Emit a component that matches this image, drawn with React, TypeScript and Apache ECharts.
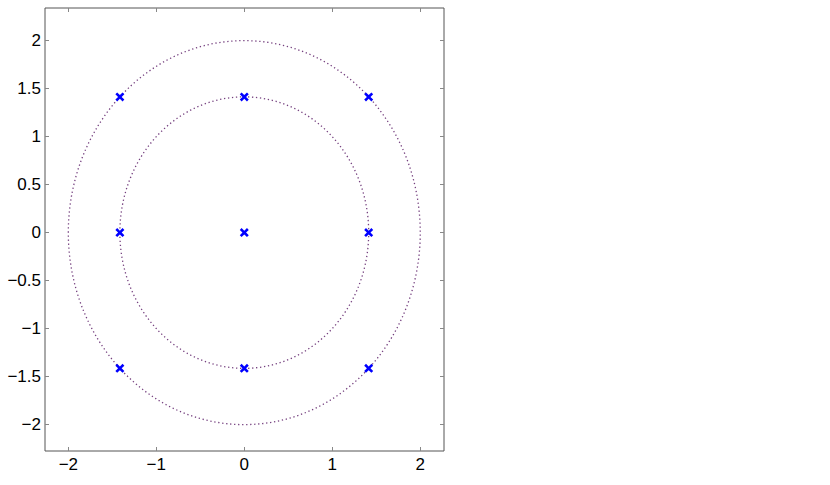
import React, { useEffect, useRef } from "react";
import * as echarts from "echarts";

const xTicks = [-2, -1, 0, 1, 2];
const yTicks = [-2, -1.5, -1, -0.5, 0, 0.5, 1, 1.5, 2];
const pointsX = [-1.414, 0, 1.414, -1.414, 0, 1.414, -1.414, 0, 1.414];
const pointsY = [1.414, 1.414, 1.414, 0, 0, 0, -1.414, -1.414, -1.414];
const circleRadii = [2, 1.414];
const xRange = [-2.265, 2.27];
const yRange = [-2.275, 2.34];

const fmt = (v: number) => (v < 0 ? "\u2212" + String(Math.abs(v)) : String(v));

const CROSS =
  "path://M0,2 L2,0 L5,3 L8,0 L10,2 L7,5 L10,8 L8,10 L5,7 L2,10 L0,8 L3,5 Z";

export default function App() {
  const ref = useRef<HTMLDivElement>(null);
  useEffect(() => {
    if (!ref.current) return;
    const chart = echarts.init(ref.current, null, { renderer: "svg" });
    const labelStyle = {
      color: "#000",
      fontFamily: "Liberation Sans",
      fontSize: 17,
    };
    const axisCommon = {
      type: "value" as const,
      splitLine: { show: false },
      axisLine: { show: false, onZero: false },
    };
    const tick = (vals: number[]) => ({
      show: true,
      inside: true,
      length: 4,
      customValues: vals,
      lineStyle: { color: "#888" },
    });
    chart.setOption({
      animation: false,
      backgroundColor: "#fff",
      grid: {
        left: 45,
        top: 8,
        right: 386,
        bottom: 34,
        show: true,
        borderColor: "#555",
        borderWidth: 1,
        backgroundColor: "transparent",
      },
      xAxis: [
        {
          ...axisCommon,
          position: "bottom",
          min: xRange[0],
          max: xRange[1],
          axisTick: tick(xTicks),
          axisLabel: {
            ...labelStyle,
            margin: 5,
            customValues: xTicks,
            formatter: fmt,
          },
        },
        {
          ...axisCommon,
          position: "top",
          min: xRange[0],
          max: xRange[1],
          axisTick: tick(xTicks),
          axisLabel: { show: false },
        },
      ],
      yAxis: [
        {
          ...axisCommon,
          position: "left",
          min: yRange[0],
          max: yRange[1],
          axisTick: tick(yTicks),
          axisLabel: {
            ...labelStyle,
            margin: 4,
            customValues: yTicks,
            formatter: fmt,
          },
        },
        {
          ...axisCommon,
          position: "right",
          min: yRange[0],
          max: yRange[1],
          axisTick: tick(yTicks),
          axisLabel: { show: false },
        },
      ],
      series: [
        {
          type: "custom",
          xAxisIndex: 0,
          yAxisIndex: 0,
          data: circleRadii.map((r) => [0, 0, r]),
          encode: { x: 0, y: 1 },
          clip: true,
          renderItem: (_params: any, api: any) => {
            const c = api.coord([api.value(0), api.value(1)]);
            const s = api.size([api.value(2), api.value(2)]);
            return {
              type: "ellipse",
              shape: { cx: c[0], cy: c[1], rx: s[0], ry: s[1] },
              style: {
                fill: "none",
                stroke: "#75407f",
                lineWidth: 1.3,
                lineDash: [1.3, 2.7],
              },
            };
          },
          z: 1,
        },
        {
          type: "scatter",
          xAxisIndex: 0,
          yAxisIndex: 0,
          data: pointsX.map((x, i) => [x, pointsY[i]]),
          symbol: CROSS,
          symbolSize: 9,
          itemStyle: { color: "#0000ff", opacity: 1 },
          z: 3,
        },
      ],
    });
    return () => chart.dispose();
  }, []);
  return (
    <div
      ref={ref}
      style={{ position: "fixed", left: 0, top: 0, width: 830, height: 485 }}
    />
  );
}
